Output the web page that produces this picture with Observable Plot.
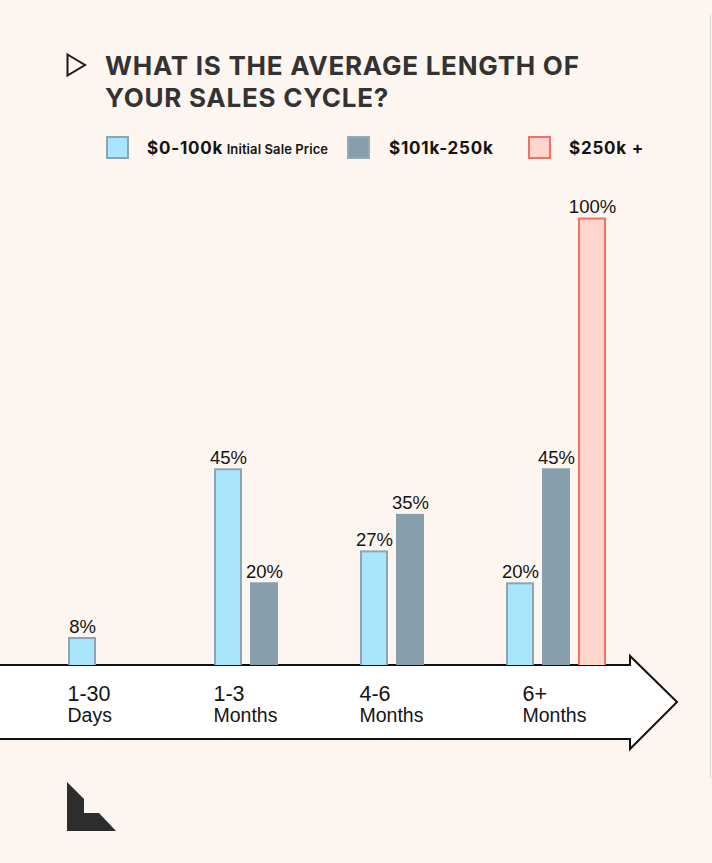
<!DOCTYPE html>
<html><head><meta charset="utf-8">
<script src="https://cdn.jsdelivr.net/npm/d3@7"></script>
<script src="https://cdn.jsdelivr.net/npm/@observablehq/plot@0.6"></script>
<style>
html,body{margin:0;padding:0;}
body{width:712px;height:863px;background:#fdf5ef;position:relative;overflow:hidden;font-family:Inter,"Liberation Sans",sans-serif;}
#title{position:absolute;left:105px;top:50px;font-weight:700;font-size:26px;line-height:32px;color:#333;margin:0;letter-spacing:0.75px;}
#play{position:absolute;left:60px;top:48px;}
#legend{position:absolute;left:0;top:0;}
.sw{position:absolute;top:136px;width:19px;height:19px;border:2px solid;}
.lt{position:absolute;top:138px;font-weight:700;font-size:17px;line-height:20px;color:#141414;white-space:nowrap;letter-spacing:0.8px;}
.lt small{font-size:13px;font-weight:600;letter-spacing:0.1px;}
#arrowbg{position:absolute;left:0;top:175px;}
#chart{position:absolute;left:0;top:175px;}
#logo{position:absolute;left:0;top:0;}
#edge{position:absolute;left:710px;top:15px;width:1px;height:763px;background:#d9d4cf;}
</style></head><body>
<svg id="play" width="40" height="40"><polygon points="7.5,6.5 25,17 7.5,27.5" fill="none" stroke="#1a1a1a" stroke-width="2" stroke-linejoin="miter"/></svg>
<h1 id="title">WHAT IS THE AVERAGE LENGTH OF<br>YOUR SALES CYCLE?</h1>
<div id="legend"></div>
<svg id="arrowbg" width="712" height="600"></svg>
<div id="chart"></div>
<div id="edge"></div>
<svg id="logo" width="712" height="863" style="pointer-events:none"><polygon points="67,782 84,799 84,813 99,813 116,831 67,831" fill="#2d2d2d"/></svg>
<script>
// ---- data ----
const categories = ["1-30", "1-3", "4-6", "6+"];
const categoryUnits = ["Days", "Months", "Months", "Months"];
const seriesNames = ["$0-100k", "$101k-250k", "$250k +"];
const seriesNote = ["Initial Sale Price", "", ""];
const lowValues = [8, 45, 27, 20];
const midValues = [0, 20, 35, 45];
const highValues = [0, 0, 0, 100];

// ---- styles / layout ----
const seriesFill = ["#a9e5fb", "#879eac", "#ffd5ce"];
const seriesStroke = ["#8ba5b5", "#879eac", "#f56f62"];
const legendSwatchX = [106, 347, 528];
const legendTextX = [147, 389, 569];
const labelShift = [0, 0, 0, 17];

const valueSets = [lowValues, midValues, highValues];
const rows = [];
categories.forEach((c, i) => seriesNames.forEach((s, j) => {
  const v = valueSets[j][i];
  if (v > 0) rows.push({category: c, series: s, value: v});
}));
const catRows = categories.map((c, i) => ({category: c, unit: categoryUnits[i]}));

// legend
const legend = document.getElementById("legend");
seriesNames.forEach((s, j) => {
  const sw = document.createElement("div");
  sw.className = "sw";
  sw.style.left = legendSwatchX[j] + "px";
  sw.style.background = seriesFill[j];
  sw.style.borderColor = j === 1 ? "#95a9b6" : seriesStroke[j];
  legend.appendChild(sw);
  const t = document.createElement("div");
  t.className = "lt";
  t.style.left = legendTextX[j] + "px";
  t.textContent = s;
  if (seriesNote[j]) {
    const sm = document.createElement("small");
    sm.textContent = " " + seriesNote[j];
    t.appendChild(sm);
  }
  legend.appendChild(t);
});

const W = 712, H = 600, mTop = 42, mBottom = 110;

// decorative arrow (background layer)
const yTop = H - mBottom;
d3.select("#arrowbg").append("path")
  .attr("d", `M-3,${yTop}H630V${yTop - 9}L677,${yTop + 37}L630,${yTop + 84}V${yTop + 74}H-3Z`)
  .attr("fill", "#ffffff").attr("stroke", "#111").attr("stroke-width", 2).attr("stroke-linejoin", "miter");

const chart = Plot.plot({
  width: W, height: H,
  marginLeft: 67, marginRight: 103.5, marginTop: mTop, marginBottom: mBottom,
  style: "background: transparent; overflow: visible; font-family: 'Liberation Sans', Arial, sans-serif;",
  fx: {domain: categories, paddingInner: 0.297, paddingOuter: 0, axis: null, label: null},
  x: {domain: seriesNames, paddingInner: 0.216, paddingOuter: 0, axis: null},
  y: {domain: [0, 100], range: [498.5, 42.5], axis: null},
  marks: [
    ...seriesNames.map((s, j) => Plot.barY(rows.filter(d => d.series === s), {
      fx: "category", x: "series", y: "value",
      fill: seriesFill[j], stroke: seriesStroke[j], strokeWidth: 2, inset: 1, clip: true
    })),
    Plot.text(rows, {fx: "category", x: "series", y: "value", text: d => d.value + "%",
      lineAnchor: "bottom", dy: -5, fontSize: 18.5, fill: "#141414"}),
    ...catRows.map((r, i) => Plot.text([r], {fx: "category", text: "category", frameAnchor: "bottom-left",
      textAnchor: "start", lineAnchor: "bottom", dx: labelShift[i], dy: 35, fontSize: 21.5, fill: "#141414"})),
    ...catRows.map((r, i) => Plot.text([r], {fx: "category", text: "unit", frameAnchor: "bottom-left",
      textAnchor: "start", lineAnchor: "bottom", dx: labelShift[i], dy: 56, fontSize: 19.5, fill: "#141414"}))
  ]
});
document.getElementById("chart").appendChild(chart);
</script>
</body></html>
